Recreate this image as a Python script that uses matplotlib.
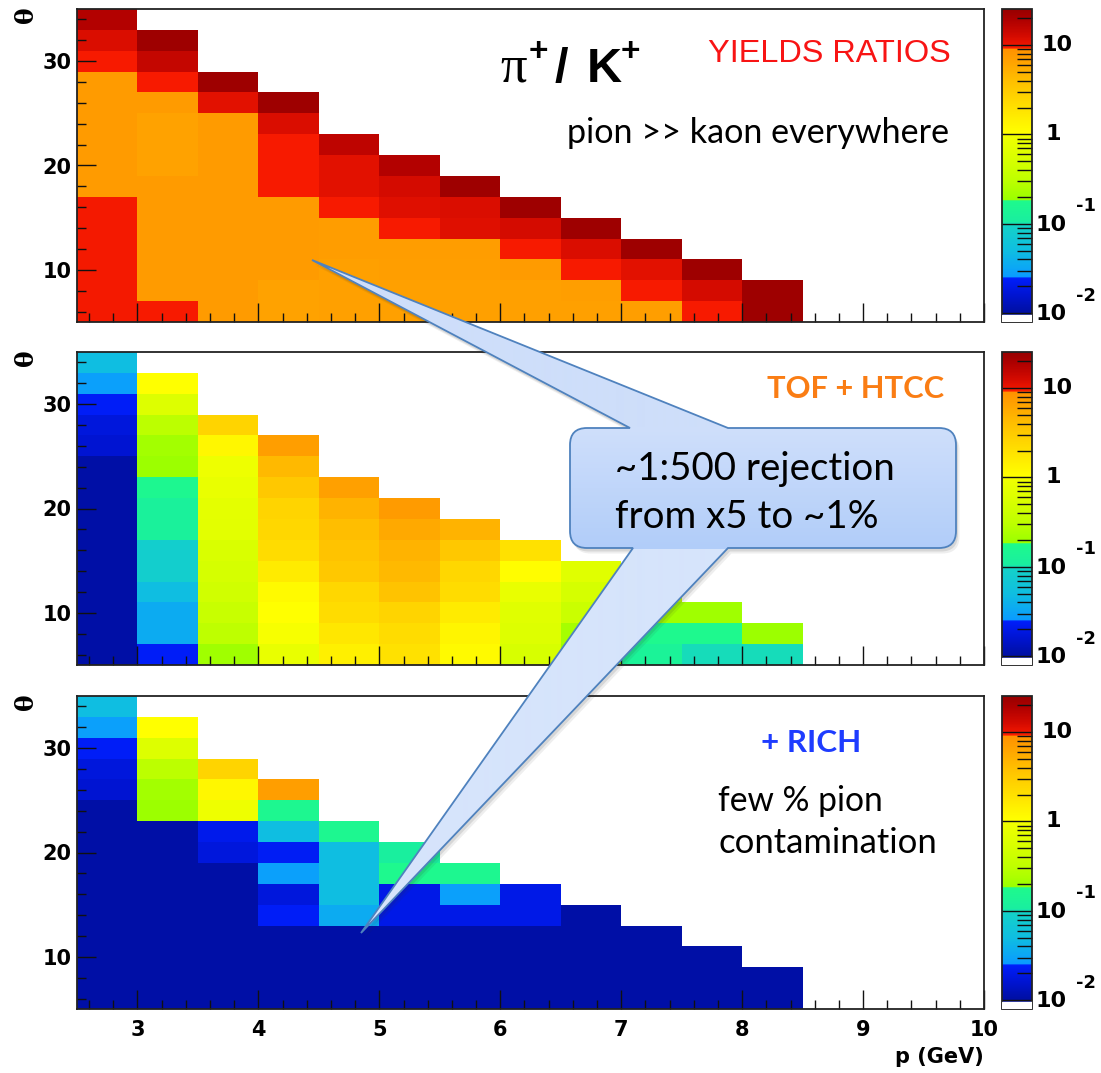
import numpy as np
import matplotlib
matplotlib.use("Agg")
import matplotlib.pyplot as plt
from matplotlib.colors import LinearSegmentedColormap, LogNorm, to_rgb
from matplotlib.path import Path
from matplotlib.patches import PathPatch
from matplotlib.ticker import FixedLocator, MultipleLocator

# ---------------------------------------------------------------- binning
p_edges = [2.5, 3.0, 3.5, 4.0, 4.5, 5.0, 5.5, 6.0, 6.5, 7.0, 7.5, 8.0, 8.5, 9.0, 9.5, 10.0]
theta_edges = [5, 7, 9, 11, 13, 15, 17, 19, 21, 23, 25, 27, 29, 31, 33, 35]

# ---------------------------------------------------------------- pi+/K+ ratios
# one list per momentum bin (2.5-3.0, 3.0-3.5, ... 8.0-8.5 GeV), theta bins from 5 deg upward
yields_ratio = [
    [9.8, 9.8, 9.8, 9.8, 9.8, 9.8, 7.5, 7.5, 7.5, 7.5, 7.5, 7.5, 9.6, 12.0, 18.0],
    [9.6, 7.5, 7.5, 7.5, 7.5, 7.5, 7.5, 6.5, 6.5, 6.5, 7.5, 9.6, 15.0, 23.0],
    [7.5, 7.5, 7.5, 7.5, 7.5, 7.5, 7.5, 7.5, 7.5, 7.5, 11.0, 23.0],
    [6.5, 6.5, 7.5, 7.5, 7.5, 7.5, 9.6, 9.6, 9.6, 12.0, 23.0],
    [6.8, 6.8, 6.8, 7.2, 7.2, 9.6, 11.0, 11.0, 16.0],
    [6.8, 6.8, 7.0, 7.2, 9.6, 11.5, 12.5, 18.0],
    [6.8, 6.8, 7.0, 7.2, 11.5, 12.0, 23.0],
    [6.8, 6.8, 7.5, 9.6, 12.5, 23.0],
    [6.8, 7.0, 9.6, 12.0, 23.0],
    [7.0, 9.6, 11.0, 23.0],
    [9.6, 12.5, 23.0],
    [23.0, 23.0],
]

tof_htcc_ratio = [
    [0.0105, 0.0105, 0.0105, 0.0105, 0.0105, 0.0105, 0.0105, 0.0105, 0.0105, 0.0105, 0.016, 0.018, 0.024, 0.028, 0.05],
    [0.024, 0.035, 0.035, 0.05, 0.085, 0.085, 0.12, 0.12, 0.16, 0.19, 0.21, 0.30, 0.60, 1.05],
    [0.20, 0.31, 0.38, 0.45, 0.50, 0.55, 0.70, 0.72, 0.80, 0.90, 1.25, 2.6],
    [0.80, 1.0, 1.05, 1.15, 1.6, 2.2, 2.4, 2.6, 3.3, 4.4, 7.0],
    [1.45, 1.75, 2.2, 2.4, 3.3, 3.7, 4.06, 4.9, 6.8],
    [2.0, 2.2, 2.6, 3.7, 4.4, 4.9, 5.8, 7.5],
    [1.15, 1.3, 1.6, 2.2, 2.4, 3.3, 4.9],
    [0.52, 0.60, 0.65, 0.80, 1.1, 2.0],
    [0.19, 0.22, 0.40, 0.50, 0.65],
    [0.13, 0.17, 0.20, 0.35],
    [0.10, 0.17, 0.20],
    [0.10, 0.19],
]

rich_ratio = [
    [0.0105, 0.0105, 0.0105, 0.0105, 0.0105, 0.0105, 0.0105, 0.0105, 0.0105, 0.0105, 0.016, 0.018, 0.024, 0.028, 0.05],
    [0.0105, 0.0105, 0.0105, 0.0105, 0.0105, 0.0105, 0.0105, 0.0105, 0.0105, 0.19, 0.21, 0.30, 0.60, 1.05],
    [0.0105, 0.0105, 0.0105, 0.0105, 0.0105, 0.0105, 0.0105, 0.018, 0.021, 0.90, 1.25, 2.6],
    [0.0105, 0.0105, 0.0105, 0.0105, 0.024, 0.018, 0.028, 0.023, 0.05, 0.16, 7.0],
    [0.0105, 0.0105, 0.0105, 0.0105, 0.035, 0.05, 0.05, 0.05, 0.16],
    [0.0105, 0.0105, 0.0105, 0.0105, 0.020, 0.020, 0.17, 0.11],
    [0.0105, 0.0105, 0.0105, 0.0105, 0.020, 0.028, 0.16],
    [0.0105, 0.0105, 0.0105, 0.0105, 0.020, 0.020],
    [0.0105, 0.0105, 0.0105, 0.0105, 0.0105],
    [0.0105, 0.0105, 0.0105, 0.0105],
    [0.0105, 0.0105, 0.0105],
    [0.0105, 0.0105],
]

z_min, z_max = 0.008, 25.3

# ---------------------------------------------------------------- palette (value, colour)
palette_stops = [
    (0.008, "#000880"), (0.0096, "#000ea0"), (0.011, "#0010aa"), (0.016, "#0014d2"),
    (0.0245, "#001efa"), (0.0255, "#0a9bff"), (0.05, "#0fbee1"), (0.097, "#14d2c8"),
    (0.105, "#19eea0"), (0.18, "#1efa8c"), (0.187, "#9bff00"), (0.31, "#beff00"),
    (0.52, "#d7ff00"), (0.96, "#f0ff00"), (1.04, "#ffff00"), (1.45, "#fff000"),
    (2.43, "#ffd700"), (4.06, "#ffbe00"), (6.8, "#ffa000"), (9.1, "#ff9100"),
    (9.3, "#ff1e00"), (10.3, "#eb1400"), (12.9, "#d20a00"), (19.0, "#af0000"),
    (25.3, "#960000"),
]
lo, hi = np.log10(z_min), np.log10(z_max)
cmap = LinearSegmentedColormap.from_list(
    "root_pretty",
    [((np.log10(v) - lo) / (hi - lo), to_rgb(c)) for v, c in palette_stops], N=512)
norm = LogNorm(vmin=z_min, vmax=z_max)

W, H = 1101, 1073
plt.rcParams["font.family"] = ["DejaVu Sans"]
fig = plt.figure(figsize=(W / 100, H / 100), dpi=100)


def px_axes(left, top, right, bottom):
    return fig.add_axes([left / W, 1 - bottom / H, (right - left) / W, (bottom - top) / H])


def to_grid(columns):
    z = np.full((len(theta_edges) - 1, len(p_edges) - 1), np.nan)
    for j, col in enumerate(columns):
        z[:len(col), j] = col
    return np.ma.masked_invalid(z)


panel_tops = [9, 352, 696]
panel_height = 313
tick_font = dict(family="DejaVu Sans", weight="bold", size=15)

for k, (data, top) in enumerate(zip([yields_ratio, tof_htcc_ratio, rich_ratio], panel_tops)):
    bottom = top + panel_height
    ax = px_axes(77, top, 984, bottom)
    mesh = ax.pcolormesh(p_edges, theta_edges, to_grid(data), cmap=cmap, norm=norm,
                         shading="flat", antialiased=False, edgecolors="none")
    ax.set_xlim(2.5, 10)
    ax.set_ylim(5, 35)
    ax.xaxis.set_major_locator(FixedLocator([3, 4, 5, 6, 7, 8, 9, 10]))
    ax.xaxis.set_minor_locator(MultipleLocator(0.2))
    ax.yaxis.set_major_locator(MultipleLocator(10))
    ax.yaxis.set_minor_locator(MultipleLocator(2))
    ax.tick_params(which="both", direction="in", top=False, right=False, width=1.0, color="#111111")
    ax.tick_params(which="major", length=13.7)
    ax.tick_params(which="minor", length=6.8)
    ax.tick_params(axis="y", pad=4)
    ax.tick_params(axis="x", pad=8, labelbottom=(k == 2))
    for lab in ax.get_xticklabels() + ax.get_yticklabels():
        lab.set_fontproperties(tick_font)
    for sp in ax.spines.values():
        sp.set_linewidth(1.3)
        sp.set_color("#222222")

    cax = px_axes(1001.5, top, 1032, bottom)
    cb = fig.colorbar(mesh, cax=cax)
    cb.outline.set_linewidth(1.3)
    cb.outline.set_edgecolor("#222222")
    cb.set_ticks([0.01, 0.1, 1, 10], labels=["", "", "", ""])
    minors = [m * d for d in (0.01, 0.1, 1) for m in range(2, 10)] + [20]
    cax.yaxis.set_minor_locator(FixedLocator(minors))
    cax.tick_params(which="both", direction="in", right=True, left=False,
                    labelright=False, color="#111111", width=1.0)
    cax.tick_params(which="major", length=21.8)
    cax.tick_params(which="minor", length=10.5)
    cax.axhspan(z_min, 0.0095, color="white", zorder=3)

# ---------------------------------------------------------------- overlay in pixel units
ov = fig.add_axes([0, 0, 1, 1])
ov.set_xlim(0, W)
ov.set_ylim(H, 0)
ov.axis("off")
ov.set_zorder(10)
renderer = fig.canvas.get_renderer()


def fit_text(x, y, s, width, **kw):
    t = ov.text(x, y, s, ha="left", va="baseline", **kw)
    w = t.get_window_extent(renderer).width
    t.set_fontsize(t.get_fontsize() * width / w)
    return t


# colour-bar labels and axis titles
for top in panel_tops:
    dy = top - 9
    lab = dict(family="DejaVu Sans", weight="bold", fontsize=16, va="center", ha="left")
    ov.text(1042, 45 + dy, "10", **lab)
    ov.text(1045, 134 + dy, "1", **lab)
    ov.text(1035, 225 + dy, "10", **lab)
    ov.text(1035, 314 + dy, "10", **lab)
    ov.text(1076, 206 + dy, "-1", family="DejaVu Sans", weight="bold", fontsize=13, va="center")
    ov.text(1076, 296 + dy, "-2", family="DejaVu Sans", weight="bold", fontsize=13, va="center")
    ov.text(26, 15 + dy, "θ", family="DejaVu Serif", weight="bold", fontsize=18, rotation=90,
            ha="center", va="center")

ov.text(984, 1057, "p (GeV)", family="DejaVu Sans", weight="bold", fontsize=15,
        ha="right", va="center")

# panel annotations
ov.text(500, 82, "π", family="Liberation Serif", fontsize=38, va="baseline")
ov.text(529, 61, "+", family="Liberation Sans", weight="bold", fontsize=24, va="baseline")
ov.text(555, 82, "/", family="Liberation Sans", weight="bold", fontsize=35, va="baseline")
ov.text(587, 82, "K", family="Liberation Sans", weight="bold", fontsize=35, va="baseline")
ov.text(621, 61, "+", family="Liberation Sans", weight="bold", fontsize=24, va="baseline")

fit_text(708, 62, "YIELDS RATIOS", 243, family="Liberation Sans", fontsize=24, color="#f81414")
fit_text(567, 143, "pion >> kaon everywhere", 382, family="Lato", fontsize=24, color="black")
fit_text(767, 398, "TOF + HTCC", 177, family="Lato", weight="bold", fontsize=24, color="#fa7d14")
fit_text(761, 752, "+ RICH", 100, family="Lato", weight="bold", fontsize=24, color="#1e3cff")
fit_text(718, 811, "few % pion", 165, family="Lato", fontsize=24, color="black")
fit_text(718, 853, "contamination", 218, family="Lato", fontsize=24, color="black")

# ---------------------------------------------------------------- callout
x0, x1, y0, y1, r = 570, 956, 428, 548, 17
tip_up, tip_down = (312, 260), (361, 933)
verts = [
    (x0 + r, y0), (630, y0), tip_up, (728, y0), (x1 - r, y0),
    (x1, y0), (x1, y0 + r), (x1, y1 - r), (x1, y1), (x1 - r, y1),
    (728, y1), tip_down, (633, y1), (x0 + r, y1),
    (x0, y1), (x0, y1 - r), (x0, y0 + r), (x0, y0), (x0 + r, y0), (x0 + r, y0),
]
codes = [Path.MOVETO, Path.LINETO, Path.LINETO, Path.LINETO, Path.LINETO,
         Path.CURVE3, Path.CURVE3, Path.LINETO, Path.CURVE3, Path.CURVE3,
         Path.LINETO, Path.LINETO, Path.LINETO, Path.LINETO,
         Path.CURVE3, Path.CURVE3, Path.LINETO, Path.CURVE3, Path.CURVE3, Path.CLOSEPOLY]
bubble = Path(verts, codes)

for (dx, dy, a) in [(3.5, 5.5, 0.08), (2, 3.5, 0.12)]:
    shadow = Path(np.array(verts) + [dx, dy], codes)
    ov.add_patch(PathPatch(shadow, facecolor="#303030", edgecolor="none", alpha=a, zorder=1))

ys = np.arange(255, 941)
rows = np.empty((len(ys), 1, 3))
top_c, bot_c = np.array([207, 223, 251]), np.array([177, 205, 249])
tail_up_c, tail_dn_c = np.array([206, 222, 250]), np.array([214, 228, 251])
for i, yy in enumerate(ys):
    if yy < y0:
        rows[i, 0] = tail_up_c
    elif yy <= y1:
        f = (yy - y0) / (y1 - y0)
        rows[i, 0] = top_c * (1 - f) + bot_c * f
    else:
        rows[i, 0] = tail_dn_c
edge = PathPatch(bubble, facecolor="none", edgecolor="#4f82be", linewidth=1.3, zorder=3)
ov.add_patch(edge)
grad = ov.imshow(rows / 255.0, extent=(300, 965, 941, 255), aspect="auto",
                 interpolation="bilinear", zorder=2)
grad.set_clip_path(edge)

l1 = fit_text(615, 480, "~1:500 rejection", 280, family="Lato", fontsize=26, color="black")
ov.text(615, 528, "from x5 to ~1%", family="Lato", fontsize=l1.get_fontsize(),
        color="black", ha="left", va="baseline", zorder=4)
l1.set_zorder(4)

fig.savefig("out.png", dpi=100)
